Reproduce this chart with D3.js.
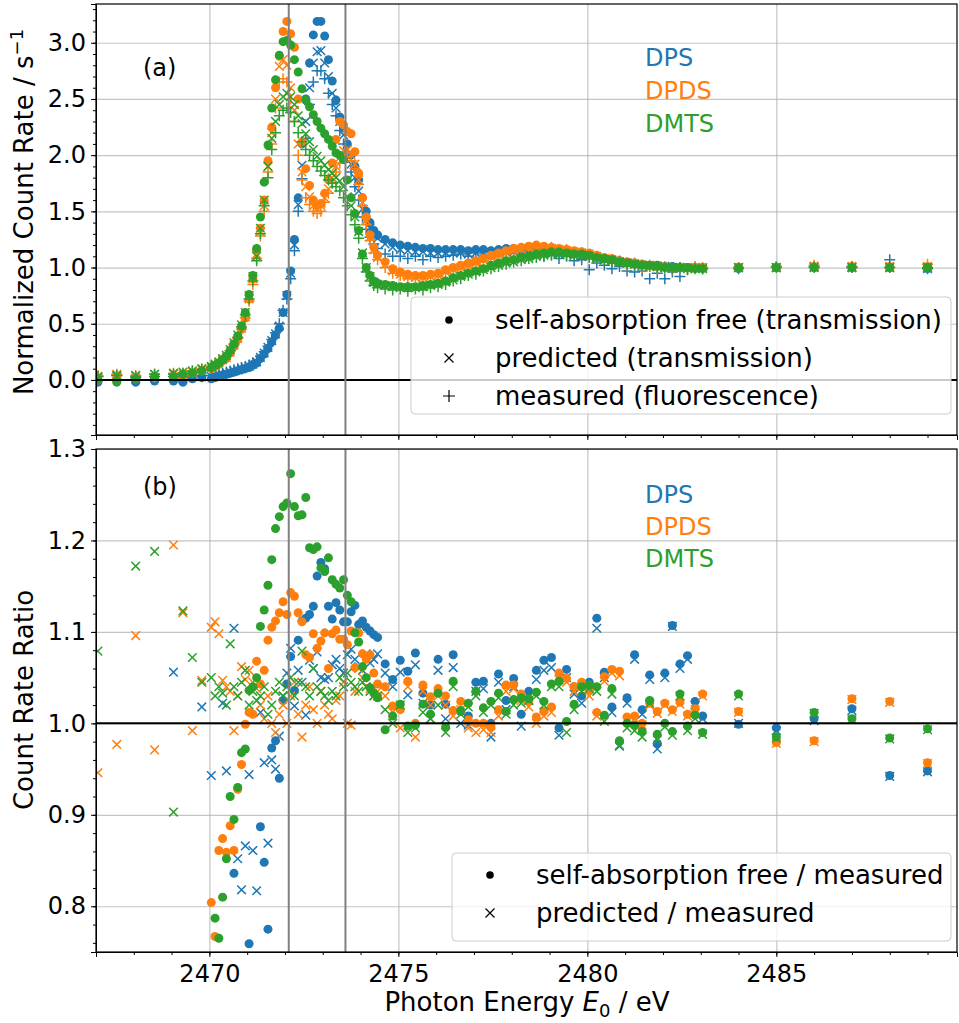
<!DOCTYPE html>
<html>
<head>
<meta charset="utf-8">
<script src="https://cdn.jsdelivr.net/npm/d3@7"></script>
<style>
  body { margin: 0; background: #fff; }
  text { font-family: "DejaVu Sans", sans-serif; }
</style>
</head>
<body>
<svg id="chart" width="959" height="1023"></svg>
<script>
// photon energy grid (eV), shared by every series
const energy = [
  2467.05, 2467.55, 2468.05, 2468.55, 2469.05,
  2469.3, 2469.55, 2469.8,
  2470.05, 2470.15, 2470.25, 2470.35, 2470.45, 2470.55, 2470.65, 2470.75, 2470.85, 2470.95,
  2471.05, 2471.15, 2471.25, 2471.35, 2471.45, 2471.55, 2471.65, 2471.75, 2471.85, 2471.95,
  2472.05, 2472.15, 2472.25, 2472.35, 2472.45, 2472.55, 2472.65, 2472.75, 2472.85, 2472.95,
  2473.05, 2473.15, 2473.25, 2473.35, 2473.45, 2473.55, 2473.65, 2473.75, 2473.85, 2473.95,
  2474.05, 2474.15, 2474.25, 2474.35, 2474.45,
  2474.65, 2474.85, 2475.05, 2475.25, 2475.45, 2475.65, 2475.85, 2476.05, 2476.25, 2476.45,
  2476.65, 2476.85, 2477.05, 2477.25, 2477.45, 2477.65, 2477.85, 2478.05, 2478.25, 2478.45,
  2478.65, 2478.85, 2479.05, 2479.25, 2479.45, 2479.65, 2479.85, 2480.05, 2480.25, 2480.45,
  2480.65, 2480.85, 2481.05, 2481.25, 2481.45, 2481.65, 2481.85, 2482.05, 2482.25, 2482.45,
  2482.65, 2482.85, 2483.05,
  2484, 2485, 2486, 2487, 2488, 2489
];

// (a) normalized count rate
const dpsFree = [
  -0.02, 0.00, -0.02, -0.01, -0.01,
  -0.02, 0.01, 0.02,
  0.01, 0.02, 0.03, 0.04, 0.05, 0.06, 0.07, 0.08, 0.09, 0.10,
  0.11, 0.13, 0.15, 0.19, 0.23, 0.28, 0.34, 0.40, 0.46, 0.60,
  0.76, 0.97, 1.25, 1.62, 2.10, 2.50, 2.82, 3.07, 3.19, 3.19,
  3.06, 2.85, 2.66, 2.49, 2.34, 2.24, 2.10, 2.00, 1.90, 1.78,
  1.62, 1.50, 1.40, 1.33, 1.29,
  1.25, 1.22, 1.20, 1.19, 1.18, 1.17, 1.17, 1.16, 1.16, 1.16,
  1.16, 1.15, 1.16, 1.16, 1.15, 1.16, 1.17, 1.17, 1.16, 1.16,
  1.15, 1.15, 1.15, 1.14, 1.14, 1.13, 1.12, 1.11, 1.10, 1.08,
  1.07, 1.06, 1.05, 1.04, 1.03, 1.02, 1.02, 1.01, 1.01, 1.00,
  1.00, 1.00, 1.00,
  0.99, 1.00, 1.00, 1.00, 1.00, 0.99
];
const dpsPred = [
  0.02, 0.03, 0.01, 0.02, 0.02,
  0.01, 0.03, 0.03,
  0.03, 0.04, 0.05, 0.05, 0.06, 0.07, 0.08, 0.09, 0.10, 0.11,
  0.12, 0.14, 0.16, 0.20, 0.24, 0.29, 0.35, 0.41, 0.48, 0.60,
  0.75, 0.95, 1.20, 1.56, 1.91, 2.30, 2.60, 2.82, 2.92, 2.93,
  2.82, 2.70, 2.55, 2.42, 2.30, 2.18, 2.05, 1.92, 1.80, 1.68,
  1.52, 1.42, 1.35, 1.29, 1.26,
  1.21, 1.18, 1.16, 1.15, 1.14, 1.14, 1.13, 1.13, 1.13, 1.13,
  1.13, 1.12, 1.13, 1.13, 1.12, 1.13, 1.14, 1.14, 1.14, 1.14,
  1.13, 1.13, 1.13, 1.12, 1.12, 1.11, 1.10, 1.10, 1.09, 1.07,
  1.06, 1.05, 1.04, 1.03, 1.02, 1.02, 1.01, 1.01, 1.00, 1.00,
  1.00, 1.00, 1.00,
  1.00, 1.00, 1.01, 1.00, 1.00, 0.99
];
const dpsMeas = [
  0.03, 0.04, 0.02, 0.03, 0.03,
  0.02, 0.03, 0.04,
  0.04, 0.05, 0.05, 0.06, 0.07, 0.08, 0.09, 0.10, 0.11, 0.12,
  0.13, 0.15, 0.17, 0.21, 0.25, 0.30, 0.36, 0.42, 0.50, 0.62,
  0.72, 0.90, 1.15, 1.50, 1.79, 2.15, 2.45, 2.65, 2.75, 2.75,
  2.68, 2.55, 2.45, 2.35, 2.22, 2.10, 1.98, 1.85, 1.72, 1.60,
  1.45, 1.34, 1.27, 1.21, 1.17,
  1.12, 1.10, 1.10, 1.08, 1.10, 1.07, 1.10, 1.09, 1.10, 1.11,
  1.12, 1.10, 1.13, 1.11, 1.14, 1.13, 1.15, 1.13, 1.14, 1.12,
  1.13, 1.10, 1.12, 1.08, 1.10, 1.06, 1.07, 0.98, 1.04, 1.02,
  0.99, 1.01, 0.97, 0.96, 0.97, 0.90, 0.95, 0.90, 0.96, 0.92,
  0.98, 1.00, 0.99,
  1.00, 1.01, 1.01, 1.01, 1.07, 1.00
];
const dpdsFree = [
  0.00, 0.02, 0.01, 0.02, 0.03,
  0.04, 0.06, 0.08,
  0.10, 0.12, 0.14, 0.17, 0.19, 0.24, 0.30, 0.36, 0.45, 0.55,
  0.72, 0.90, 1.15, 1.35, 1.60, 1.95, 2.25, 2.60, 2.88, 3.10,
  3.19, 3.08, 2.96, 2.50, 2.12, 1.88, 1.73, 1.60, 1.55, 1.57,
  1.66, 1.78, 1.93, 2.14, 2.30, 2.27, 2.21, 2.19, 2.03, 1.84,
  1.62, 1.45, 1.29, 1.18, 1.11,
  1.05, 0.99, 0.96, 0.94, 0.93, 0.93, 0.94, 0.95, 0.98, 1.00,
  1.02, 1.04, 1.06, 1.08, 1.11, 1.13, 1.15, 1.17, 1.18, 1.19,
  1.20, 1.19, 1.18, 1.17, 1.16, 1.15, 1.14, 1.13, 1.11, 1.09,
  1.08, 1.06, 1.05, 1.04, 1.03, 1.02, 1.01, 1.01, 1.00, 1.00,
  1.00, 1.00, 1.00,
  1.00, 1.00, 1.01, 1.01, 1.01, 1.01
];
const dpdsPred = [
  0.03, 0.05, 0.03, 0.05, 0.05,
  0.05, 0.07, 0.09,
  0.11, 0.13, 0.15, 0.18, 0.20, 0.25, 0.31, 0.37, 0.46, 0.56,
  0.72, 0.90, 1.12, 1.32, 1.55, 1.90, 2.20, 2.50, 2.79, 2.85,
  2.80, 2.60, 2.40, 2.10, 1.85, 1.72, 1.63, 1.55, 1.52, 1.55,
  1.62, 1.70, 1.80, 1.90, 1.98, 2.04, 2.05, 2.00, 1.92, 1.78,
  1.58, 1.42, 1.27, 1.16, 1.09,
  1.03, 0.97, 0.94, 0.92, 0.91, 0.91, 0.92, 0.93, 0.96, 0.98,
  1.00, 1.02, 1.04, 1.07, 1.09, 1.11, 1.13, 1.15, 1.16, 1.17,
  1.18, 1.17, 1.17, 1.16, 1.15, 1.14, 1.13, 1.12, 1.10, 1.08,
  1.07, 1.05, 1.04, 1.03, 1.02, 1.01, 1.01, 1.00, 1.00, 1.00,
  1.00, 1.00, 1.00,
  1.00, 1.00, 1.01, 1.01, 1.01, 1.01
];
const dpdsMeas = [
  0.04, 0.05, 0.04, 0.05, 0.06,
  0.06, 0.08, 0.10,
  0.12, 0.14, 0.16, 0.18, 0.21, 0.26, 0.31, 0.37, 0.45, 0.55,
  0.70, 0.85, 1.08, 1.28, 1.50, 1.85, 2.10, 2.42, 2.65, 2.68,
  2.65, 2.50, 2.30, 2.00, 1.78, 1.62, 1.56, 1.50, 1.48, 1.50,
  1.58, 1.66, 1.76, 1.85, 1.93, 1.98, 1.99, 1.95, 1.88, 1.74,
  1.55, 1.38, 1.24, 1.13, 1.07,
  1.00, 0.95, 0.93, 0.90, 0.92, 0.90, 0.93, 0.92, 0.95, 0.98,
  0.99, 1.02, 1.03, 1.06, 1.08, 1.10, 1.13, 1.14, 1.17, 1.16,
  1.18, 1.16, 1.18, 1.15, 1.16, 1.12, 1.13, 1.11, 1.08, 1.08,
  1.05, 1.06, 1.02, 1.04, 1.00, 1.02, 0.99, 1.01, 0.98, 1.00,
  0.99, 1.01, 1.00,
  1.00, 1.01, 1.02, 1.00, 1.00, 1.03
];
const dmtsFree = [
  0.00, -0.02, 0.01, 0.03, 0.03,
  0.05, 0.06, 0.08,
  0.11, 0.13, 0.15, 0.18, 0.21, 0.26, 0.32, 0.39, 0.48, 0.60,
  0.76, 0.93, 1.17, 1.45, 1.76, 2.09, 2.42, 2.67, 2.89, 3.01,
  3.02, 2.98, 2.85, 2.74, 2.59, 2.49, 2.43, 2.36, 2.30, 2.24,
  2.19, 2.14, 2.08, 2.02, 2.00, 1.96, 1.78, 1.62, 1.48, 1.33,
  1.12, 1.00, 0.93, 0.88, 0.86,
  0.85, 0.84, 0.83, 0.83, 0.83, 0.84, 0.85, 0.86, 0.88, 0.91,
  0.93, 0.95, 0.97, 0.99, 1.02, 1.04, 1.06, 1.07, 1.09, 1.10,
  1.12, 1.13, 1.14, 1.14, 1.13, 1.12, 1.12, 1.11, 1.09, 1.08,
  1.07, 1.05, 1.04, 1.03, 1.02, 1.02, 1.01, 1.00, 1.00, 1.00,
  1.00, 0.99, 0.99,
  1.00, 1.00, 1.00, 1.00, 1.00, 1.00
];
const dmtsPred = [
  0.03, 0.04, 0.04, 0.05, 0.06,
  0.07, 0.08, 0.10,
  0.12, 0.14, 0.16, 0.19, 0.22, 0.27, 0.33, 0.40, 0.49, 0.60,
  0.75, 0.92, 1.10, 1.35, 1.60, 1.90, 2.15, 2.30, 2.45, 2.52,
  2.55, 2.52, 2.45, 2.35, 2.28, 2.19, 2.12, 2.05, 1.99, 1.95,
  1.91, 1.87, 1.84, 1.80, 1.77, 1.72, 1.63, 1.55, 1.45, 1.32,
  1.13, 1.00, 0.92, 0.87, 0.85,
  0.84, 0.83, 0.82, 0.82, 0.82, 0.83, 0.84, 0.85, 0.87, 0.89,
  0.92, 0.94, 0.96, 0.98, 1.00, 1.02, 1.04, 1.05, 1.07, 1.08,
  1.10, 1.11, 1.12, 1.12, 1.12, 1.11, 1.11, 1.10, 1.08, 1.07,
  1.06, 1.05, 1.04, 1.03, 1.02, 1.01, 1.01, 1.00, 1.00, 1.00,
  0.99, 0.99, 0.99,
  1.00, 1.00, 1.00, 1.00, 1.00, 1.00
];
const dmtsMeas = [
  0.03, 0.04, 0.03, 0.05, 0.05,
  0.06, 0.08, 0.09,
  0.11, 0.13, 0.15, 0.18, 0.21, 0.26, 0.32, 0.38, 0.47, 0.58,
  0.72, 0.88, 1.06, 1.30, 1.55, 1.80, 2.05, 2.20, 2.35, 2.40,
  2.42, 2.38, 2.30, 2.20, 2.12, 2.05, 2.00, 1.95, 1.90, 1.86,
  1.82, 1.78, 1.75, 1.72, 1.68, 1.62, 1.55, 1.47, 1.38, 1.26,
  1.08, 0.96, 0.88, 0.84, 0.82,
  0.81, 0.80, 0.81, 0.79, 0.81, 0.80, 0.82, 0.83, 0.85, 0.88,
  0.90, 0.93, 0.94, 0.97, 0.99, 1.01, 1.03, 1.05, 1.06, 1.08,
  1.09, 1.10, 1.11, 1.12, 1.11, 1.11, 1.10, 1.09, 1.08, 1.06,
  1.05, 1.05, 1.03, 1.02, 1.02, 1.01, 1.00, 1.00, 0.99, 1.00,
  0.99, 0.99, 0.99,
  0.99, 1.00, 1.00, 1.00, 1.00, 0.99
];

// (b) count rate ratios (null = outside the plotted range)
const dpsFreeRatio = [
  null, null, null, null, null,
  null, null, null,
  null, null, null, null, null, null, 0.836, null, null, null,
  0.759, null, null, 0.887, 0.848, 0.775, 0.973, 0.981, 0.940, 1.025,
  1.043, 1.073, 1.036, 1.091, 1.112, 1.115, 1.119, 1.128, 1.161, 1.176,
  1.169, 1.128, 1.114, 1.132, 1.124, 1.111, 1.111, 1.122, 1.129, 1.108,
  1.112, 1.105, 1.101, 1.097, 1.094,
  1.065, 1.048, 1.069, 1.057, 1.077, 1.033, 1.020, 1.070, 1.021, 1.075,
  1.013, 1.008, 1.045, 1.046, 1.000, 1.054, 1.025, 1.049, 1.010, 1.035,
  1.058, 1.069, 1.072, 0.995, 1.059, 1.040, 1.030, 1.045, 1.115, 1.056,
  1.018, 0.980, 1.028, 1.075, 1.015, 1.053, 0.978, 1.055, 1.107, 1.065,
  1.074, 1.024, 1.008,
  0.999, 0.995, 1.005, 1.016, 0.943, 0.948
];
const dpsPredRatio = [
  null, null, null, null, 1.056,
  null, null, 1.018,
  0.943, null, null, 1.022, 0.948, null, 1.104, 0.852, 0.818, 0.866,
  0.944, 0.861, 0.817, 1.012, 0.957, 0.869, 0.960, 0.950, 0.986, 1.030,
  1.055, 1.082, 1.019, 1.058, 1.045, 1.009, 1.069, 1.060, 1.078, 1.050,
  1.048, 1.050, 1.064, 1.070, 1.060, 1.055, 1.075, 1.081, 1.070, 1.062,
  1.058, 1.076, 1.066, 1.070, 1.076,
  1.055, 1.040, 1.056, 1.031, 1.064, 1.022, 1.005, 1.058, 1.005, 1.061,
  1.000, 0.998, 1.035, 1.038, 0.985, 1.045, 1.015, 1.040, 0.997, 1.025,
  1.048, 1.058, 1.061, 0.987, 1.050, 1.032, 1.022, 1.038, 1.104, 1.050,
  1.012, 0.975, 1.022, 1.070, 1.010, 1.048, 0.972, 1.050, 1.106, 1.060,
  1.070, 1.020, 1.005,
  1.000, 0.992, 1.003, 1.014, 0.942, 0.947
];
const dpdsFreeRatio = [
  null, null, null, null, null,
  null, null, null,
  0.804, 0.767, 0.861, 0.874, 0.859, 0.888, 0.861, 0.928, 0.955, 0.999,
  1.012, 1.010, 1.068, 1.043, 1.058, 1.091, 1.105, 1.112, 1.121, 1.133,
  1.119, 1.143, 1.139, 1.121, 1.111, 1.075, 1.072, 1.098, 1.082, 1.090,
  1.099, 1.060, 1.098, 1.102, 1.092, 1.092, 1.086, 1.101, 1.061, 1.099,
  1.076, 1.070, 1.075, 1.055, 1.043,
  1.040, 1.019, 1.015, 1.046, 1.000, 1.042, 1.029, 1.038, 1.030, 1.014,
  1.024, 1.004, 1.000, 1.000, 0.996, 1.015, 1.042, 1.042, 1.032, 1.024,
  1.007, 1.013, 1.018, 1.055, 1.049, 1.040, 1.045, 1.036, 1.012, 1.051,
  1.059, 1.057, 1.007, 1.008, 1.000, 1.022, 1.013, 1.022, 1.015, 1.023,
  1.010, 1.016, 1.032,
  1.013, 0.979, 0.981, 1.027, 1.024, 0.957
];
const dpdsPredRatio = [
  0.946, 0.977, 1.096, 0.971, 1.195,
  1.121, 0.992, 1.047,
  1.105, 1.111, 1.098, 1.047, 1.040, 1.035, 0.992, 1.030, 1.062, 1.048,
  1.058, 1.045, 1.038, 1.020, 1.005, 1.030, 1.000, 0.990, 1.010, 1.020,
  1.000, 1.030, 1.045, 1.010, 0.985, 1.020, 1.040, 1.015, 1.000, 1.035,
  1.020, 1.010, 1.005, 1.025, 1.030, 1.045, 1.000, 0.998, 1.035, 1.060,
  1.050, 1.040, 1.038, 1.030, 1.035,
  1.030, 1.012, 0.995, 1.040, 0.985, 1.035, 1.020, 1.030, 1.020, 1.008,
  1.015, 0.995, 0.990, 0.993, 0.990, 1.008, 1.035, 1.038, 1.025, 1.018,
  1.000, 1.008, 1.012, 1.048, 1.045, 1.035, 1.040, 1.030, 1.008, 1.046,
  1.055, 1.052, 1.003, 1.005, 0.998, 1.020, 1.011, 1.020, 1.013, 1.021,
  1.008, 1.015, 1.030,
  1.012, 0.978, 0.980, 1.026, 1.023, 0.956
];
const dmtsFreeRatio = [
  null, null, null, null, null,
  null, null, null,
  null, 0.787, 0.765, 0.810, 0.852, 0.920, 0.895, 0.930, 0.968, 0.972,
  1.036, 1.040, 1.050, 1.106, 1.124, 1.151, 1.179, 1.213, 1.226, 1.237,
  1.241, 1.273, 1.237, 1.227, 1.228, 1.247, 1.192, 1.190, 1.193, 1.170,
  1.166, 1.181, 1.157, 1.152, 1.148, 1.157, 1.140, 1.133, 1.099, 1.089,
  1.062, 1.050, 1.039, 1.033, 1.028,
  0.993, 1.008, 1.021, 0.997, 0.998, 1.021, 1.010, 1.033, 0.996, 1.046,
  1.014, 1.022, 1.035, 1.017, 1.024, 1.033, 1.013, 1.026, 1.028, 1.027,
  1.034, 1.024, 1.043, 1.046, 1.002, 1.021, 1.040, 1.042, 1.040, 1.009,
  1.038, 0.981, 1.000, 0.998, 0.991, 1.025, 0.988, 1.000, 0.991, 1.032,
  0.997, 1.009, 0.990,
  1.032, 0.985, 1.012, 1.005, 0.984, 0.994
];
const dmtsPredRatio = [
  1.079, null, 1.172, 1.188, 0.903,
  1.123, 1.072, 1.045,
  1.050, 1.030, 1.040, 1.033, 1.020, 1.087, 1.040, 1.030, 1.045, 1.058,
  1.020, 1.035, 1.025, 1.030, 1.040, 1.010, 1.020, 1.035, 1.045, 1.030,
  1.040, 1.050, 1.030, 1.045, 1.079, 1.040, 1.030, 1.060, 1.040, 1.035,
  1.030, 1.025, 1.035, 1.030, 1.050, 1.040, 1.055, 1.045, 1.040, 1.035,
  1.045, 1.040, 1.035, 1.030, 1.030,
  1.015, 1.000, 1.020, 0.990, 0.995, 1.012, 1.005, 1.020, 0.990, 1.040,
  1.010, 1.018, 1.030, 1.012, 1.020, 1.028, 1.010, 1.020, 1.022, 1.025,
  1.030, 1.020, 1.040, 1.040, 0.990, 1.015, 1.035, 1.038, 1.035, 1.002,
  1.032, 0.976, 0.995, 0.992, 0.985, 1.022, 0.982, 0.996, 0.987, 1.030,
  0.992, 1.005, 0.988,
  1.030, 0.984, 1.011, 1.004, 0.983, 0.993
];

const compounds = ['DPS', 'DPDS', 'DMTS'];
const markerLines = [2472.1, 2473.6];
const xTicks = [2470, 2475, 2480, 2485];
const yTicksA = [0, 0.5, 1, 1.5, 2, 2.5, 3];
const yTicksB = [0.8, 0.9, 1.0, 1.1, 1.2, 1.3];
const legendA = ['self-absorption free (transmission)', 'predicted (transmission)', 'measured (fluorescence)'];
const legendB = ['self-absorption free / measured', 'predicted / measured'];

const colors = { DPS: '#1f77b4', DPDS: '#ff7f0e', DMTS: '#2ca02c' };
const seriesA = {
  DPS: [dpsFree, dpsPred, dpsMeas],
  DPDS: [dpdsFree, dpdsPred, dpdsMeas],
  DMTS: [dmtsFree, dmtsPred, dmtsMeas]
};
const seriesB = {
  DPS: [dpsFreeRatio, dpsPredRatio],
  DPDS: [dpdsFreeRatio, dpdsPredRatio],
  DMTS: [dmtsFreeRatio, dmtsPredRatio]
};
const shapes = ['dot', 'x', 'plus'];

const svg = d3.select('#chart');
const left = 96, right = 957;
const tickFont = 24, labelFont = 26, noteFont = 24;
const x = d3.scaleLinear().domain([2467.0, 2489.78]).range([left, right]);

const panels = [
  { key: 'a', top: 4, bottom: 435, y: d3.scaleLinear().domain([-0.49, 3.345]).range([435, 4]),
    ticks: yTicksA, minor: d3.range(-4, 34).map(v => v / 10), ref: 0, series: seriesA,
    tagY: 76, nameY: [66, 99, 132] },
  { key: 'b', top: 449, bottom: 952, y: d3.scaleLinear().domain([0.75, 1.3]).range([952, 449]),
    ticks: yTicksB, minor: d3.range(38, 66).map(v => v / 50), ref: 1, series: seriesB,
    tagY: 495, nameY: [503, 535, 567] }
];

const crossPath = 'M-4.3,-4.3L4.3,4.3M-4.3,4.3L4.3,-4.3';
const plusPath = 'M-5.5,0L5.5,0M0,-5.5L0,5.5';

function drawMarker(sel, shape, color) {
  if (shape === 'dot') {
    sel.append('circle').attr('r', 4.5).attr('fill', color);
  } else {
    sel.append('path')
      .attr('d', shape === 'x' ? crossPath : plusPath)
      .attr('stroke', color).attr('stroke-width', 1.5).attr('fill', 'none');
  }
}

panels.forEach((p) => {
  const g = svg.append('g');
  const h = p.bottom - p.top;

  g.append('clipPath').attr('id', 'clip-' + p.key)
    .append('rect').attr('x', left).attr('y', p.top).attr('width', right - left).attr('height', h);

  // grid
  g.append('g').attr('transform', `translate(0,${p.bottom})`)
    .call(d3.axisBottom(x).tickValues(xTicks).tickSize(-h).tickFormat(''))
    .call(s => s.select('.domain').remove())
    .call(s => s.selectAll('line').attr('stroke', '#b0b0b0').attr('stroke-opacity', 0.75).attr('stroke-width', 1.2));
  g.append('g').attr('transform', `translate(${left},0)`)
    .call(d3.axisLeft(p.y).tickValues(p.ticks).tickSize(-(right - left)).tickFormat(''))
    .call(s => s.select('.domain').remove())
    .call(s => s.selectAll('line').attr('stroke', '#b0b0b0').attr('stroke-opacity', 0.75).attr('stroke-width', 1.2));

  // data
  const plot = g.append('g').attr('clip-path', `url(#clip-${p.key})`);
  compounds.forEach((c) => {
    p.series[c].forEach((values, k) => {
      const pts = energy.map((e, i) => [e, values[i]]).filter(d => d[1] != null);
      const marks = plot.append('g').selectAll('g').data(pts).enter().append('g')
        .attr('transform', d => `translate(${x(d[0])},${p.y(d[1])})`);
      drawMarker(marks, shapes[k], colors[c]);
    });
  });

  plot.append('line').attr('x1', left).attr('x2', right)
    .attr('y1', p.y(p.ref)).attr('y2', p.y(p.ref))
    .attr('stroke', '#000').attr('stroke-width', 2);
  markerLines.forEach((e) => {
    plot.append('line').attr('x1', x(e)).attr('x2', x(e))
      .attr('y1', p.top).attr('y2', p.bottom)
      .attr('stroke', '#808080').attr('stroke-width', 2);
  });

  // axes
  g.append('g').attr('transform', `translate(0,${p.bottom})`)
    .call(d3.axisBottom(x).tickValues(xTicks).tickSize(5).tickPadding(8)
      .tickFormat(p.key === 'b' ? d3.format('d') : ''));
  g.append('g').attr('transform', `translate(0,${p.bottom})`)
    .call(d3.axisBottom(x).tickValues(d3.range(2468, 2490)).tickSize(3).tickFormat(''))
    .call(s => s.select('.domain').remove());
  g.append('g').attr('transform', `translate(${left},0)`)
    .call(d3.axisLeft(p.y).tickValues(p.ticks).tickSize(5).tickPadding(5).tickFormat(d3.format('.1f')));
  g.append('g').attr('transform', `translate(${left},0)`)
    .call(d3.axisLeft(p.y).tickValues(p.minor).tickSize(3).tickFormat(''))
    .call(s => s.select('.domain').remove());

  g.selectAll('.tick text').attr('font-size', tickFont).attr('fill', '#000');

  g.append('rect').attr('x', left).attr('y', p.top).attr('width', right - left).attr('height', h)
    .attr('fill', 'none').attr('stroke', '#000').attr('stroke-width', 1.2);

  // panel tag and compound names
  g.append('text').attr('x', 143).attr('y', p.tagY).attr('font-size', noteFont).text(`(${p.key})`);
  compounds.forEach((c, i) => {
    g.append('text').attr('x', 645).attr('y', p.nameY[i])
      .attr('font-size', noteFont).attr('fill', colors[c]).text(c);
  });
});

// legends
function legend(items, box, rowY, mx, tx) {
  const g = svg.append('g');
  g.append('rect').attr('x', box[0]).attr('y', box[1]).attr('width', box[2]).attr('height', box[3])
    .attr('rx', 4).attr('fill', '#fff').attr('fill-opacity', 0.8).attr('stroke', '#cccccc');
  items.forEach((t, i) => {
    const m = g.append('g').attr('transform', `translate(${mx},${rowY[i]})`);
    if (shapes[i] === 'dot') m.append('circle').attr('r', 3.8).attr('fill', '#000');
    else m.append('path').attr('d', shapes[i] === 'x' ? 'M-4.5,-4.5L4.5,4.5M-4.5,4.5L4.5,-4.5' : 'M-6,0L6,0M0,-6L0,6')
      .attr('stroke', '#000').attr('stroke-width', 1.2);
    g.append('text').attr('x', tx).attr('y', rowY[i] + 9).attr('font-size', labelFont).text(t);
  });
}
legend(legendA, [411, 297, 540, 117], [320, 358, 396], 449, 495);
legend(legendB, [452, 853, 499, 88], [875, 913], 490, 536);

// axis titles
svg.append('text').attr('transform', 'translate(33,212) rotate(-90)')
  .attr('text-anchor', 'middle').attr('font-size', labelFont)
  .call(t => {
    t.append('tspan').text('Normalized Count Rate / s');
    t.append('tspan').attr('font-size', 18).attr('dy', -10).text('\u22121');
  });
svg.append('text').attr('transform', 'translate(33,700) rotate(-90)')
  .attr('text-anchor', 'middle').attr('font-size', labelFont).text('Count Rate Ratio');
svg.append('text').attr('x', 527).attr('y', 1011).attr('text-anchor', 'middle').attr('font-size', labelFont)
  .call(t => {
    t.append('tspan').text('Photon Energy ');
    t.append('tspan').attr('font-style', 'italic').text('E');
    t.append('tspan').attr('font-size', 18).attr('dy', 6).text('0');
    t.append('tspan').attr('dy', -6).text(' / eV');
  });
</script>
</body>
</html>
